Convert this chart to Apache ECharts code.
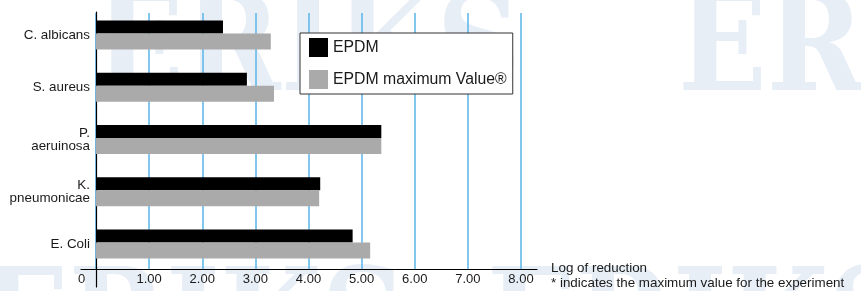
<!DOCTYPE html>
<html>
<head>
<meta charset="utf-8">
<script src="https://cdn.jsdelivr.net/npm/echarts@6/dist/echarts.min.js"></script>
<style>
html, body { margin: 0; padding: 0; background: #fff; }
#chart { width: 861px; height: 291px; }
</style>
</head>
<body>
<div id="chart"></div>
<script>
// organisms, top to bottom
var categories = ['C. albicans', 'S. aureus', 'P.\naeruinosa', 'K.\npneumonicae', 'E. Coli']
var epdm = [2.39, 2.84, 5.37, 4.22, 4.83]
var epdmMax = [3.29, 3.35, 5.37, 4.20, 5.16]
var seriesNames = ['EPDM', 'EPDM maximum Value®']
var axisTitle = 'Log of reduction'
var footNote = '* indicates the maximum value for the experiment'

var font = '"Liberation Sans", Arial, Helvetica, sans-serif'
var markFont = '"DejaVu Serif", serif'
var myChart = echarts.init(document.getElementById('chart'), null, { renderer: 'canvas' })

var chartOption = {
  backgroundColor: '#fff',
  animation: false,
  textStyle: { fontFamily: font },
  graphic: [
    // faint watermark behind the chart
    { type: 'text', x: 95, y: -12, scaleX: 0.87, z: -10, silent: true,
      style: { text: 'ERIKS', fontSize: 134, fontWeight: 'bold', fontFamily: markFont, fill: '#e7eef6' } },
    { type: 'text', x: 678, y: -12, scaleX: 0.87, z: -10, silent: true,
      style: { text: 'ER', fontSize: 134, fontWeight: 'bold', fontFamily: markFont, fill: '#e7eef6' } },
    { type: 'text', x: -20, y: 262, scaleX: 0.87, z: -10, silent: true,
      style: { text: 'ERIKS  ERIKS', fontSize: 134, fontWeight: 'bold', fontFamily: markFont, fill: '#e7eef6' } },
    { type: 'text', left: 551, top: 262, z: 10,
      style: { text: axisTitle, fontSize: 13.4, fontFamily: font, fill: '#1a1a1a' } },
    { type: 'text', left: 551, top: 277, z: 10,
      style: { text: footNote, fontSize: 13.4, fontFamily: font, fill: '#1a1a1a' } }
  ],
  legend: {
    data: seriesNames,
    orient: 'vertical',
    left: 300,
    top: 33,
    padding: [5, 6, 5, 9],
    itemWidth: 19,
    itemHeight: 19,
    itemGap: 13,
    icon: 'rect',
    backgroundColor: '#fff',
    borderColor: '#333',
    borderWidth: 1,
    textStyle: { fontSize: 15.8, color: '#1a1a1a', fontFamily: font }
  },
  grid: [
    // bars
    { left: 96, right: 324, top: 9, bottom: 21 },
    // scale with split lines and labels
    { left: 96, right: 340, top: 13, bottom: 22 },
    // horizontal axis line
    { left: 81, right: 324, top: 12, bottom: 22 },
    // vertical axis line
    { left: 96, width: 10, top: 12, bottom: 4 }
  ],
  xAxis: [
    { gridIndex: 0, type: 'value', min: 0, max: 8.3, show: false },
    {
      gridIndex: 1,
      type: 'value',
      min: 0,
      max: 8,
      interval: 1,
      axisLine: { show: false },
      axisTick: { show: false },
      splitLine: { show: true, lineStyle: { color: '#5ab4e8', width: 1.5 } },
      axisLabel: {
        margin: 4,
        fontSize: 13,
        color: '#1a1a1a',
        formatter: function (v) {
          return v === 0 ? '{z|0}' : v.toFixed(2)
        },
        rich: { z: { fontSize: 13, color: '#1a1a1a', padding: [0, 29, 0, 0] } }
      }
    },
    {
      gridIndex: 2,
      type: 'value',
      min: 0,
      max: 1,
      axisLine: { show: true, lineStyle: { color: '#000', width: 1.2 } },
      axisTick: { show: false },
      axisLabel: { show: false },
      splitLine: { show: false }
    },
    { gridIndex: 3, type: 'value', show: false }
  ],
  yAxis: [
    {
      gridIndex: 0,
      type: 'category',
      data: categories,
      inverse: true,
      axisLine: { show: false },
      axisTick: { show: false },
      axisLabel: { margin: 6, fontSize: 13.4, lineHeight: 13, color: '#1a1a1a', align: 'right' }
    },
    { gridIndex: 1, type: 'value', show: false },
    { gridIndex: 2, type: 'value', show: false },
    {
      gridIndex: 3,
      type: 'value',
      axisLine: { show: true, lineStyle: { color: '#000', width: 1.2 } },
      axisTick: { show: false },
      axisLabel: { show: false },
      splitLine: { show: false }
    }
  ],
  series: [
    {
      name: seriesNames[0],
      type: 'bar',
      xAxisIndex: 0,
      yAxisIndex: 0,
      barWidth: 13,
      barGap: '0%',
      itemStyle: { color: '#000' },
      data: epdm
    },
    {
      name: seriesNames[1],
      type: 'bar',
      xAxisIndex: 0,
      yAxisIndex: 0,
      barWidth: 16,
      barGap: '0%',
      itemStyle: { color: '#aaaaaa' },
      data: epdmMax
    }
  ]
}

myChart.setOption(chartOption)
</script>
</body>
</html>
